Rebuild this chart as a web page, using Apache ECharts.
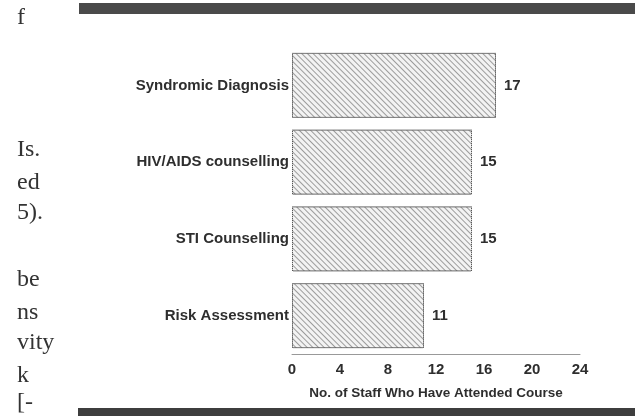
<!DOCTYPE html>
<html>
<head>
<meta charset="utf-8">
<script src="https://cdn.jsdelivr.net/npm/echarts@6/dist/echarts.min.js"></script>
<style>
  html, body { margin: 0; padding: 0; background: #fff; }
  #chart { width: 635px; height: 416px; }
</style>
</head>
<body>
<div id="chart"></div>
<script>
const courses = ['Syndromic Diagnosis', 'HIV/AIDS counselling', 'STI Counselling', 'Risk Assessment']
const staffCounts = [17, 15, 15, 11]
const axisTitle = 'No. of Staff Who Have Attended Course'
// cut-off words of the page text left of the figure
const marginWords = [
  { text: 'f', y: 25 },
  { text: 'Is.', y: 157 },
  { text: 'ed', y: 190 },
  { text: '5).', y: 220 },
  { text: 'be', y: 287 },
  { text: 'ns', y: 320 },
  { text: 'vity', y: 350 },
  { text: 'k', y: 383 },
  { text: '[-', y: 410 }
]

const chart = echarts.init(document.getElementById('chart'))

const ink = '#2e2e2e'
const labelFont = {
  fontFamily: 'Liberation Sans, Arial, sans-serif',
  fontWeight: 'bold',
  fontSize: 15,
  color: ink
}

const option = {
  backgroundColor: '#fff',
  animation: false,
  grid: {
    left: 292,
    top: 47,
    width: 288,
    height: 307
  },
  xAxis: {
    type: 'value',
    min: 0,
    max: 24,
    interval: 4,
    name: axisTitle,
    nameLocation: 'middle',
    nameGap: 32,
    nameTextStyle: {
      fontFamily: 'Liberation Sans, Arial, sans-serif',
      fontWeight: 'bold',
      fontSize: 13.5,
      color: ink
    },
    axisLine: { show: true, lineStyle: { color: '#999', width: 1 } },
    axisTick: { show: false },
    splitLine: { show: false },
    axisLabel: { ...labelFont, margin: 8 }
  },
  yAxis: {
    type: 'category',
    inverse: true,
    data: courses,
    axisLine: { show: false },
    axisTick: { show: false },
    axisLabel: { ...labelFont, margin: 3 }
  },
  series: [
    {
      type: 'bar',
      data: staffCounts,
      barWidth: 65,
      itemStyle: {
        color: '#f3f3f3',
        borderColor: '#555',
        borderWidth: 1,
        borderType: 'dotted',
        decal: {
          symbol: 'rect',
          symbolSize: 1,
          color: 'rgba(70, 70, 70, 0.5)',
          dashArrayX: [1, 0],
          dashArrayY: [1, 3],
          rotation: Math.PI / 4
        }
      },
      label: {
        show: true,
        position: 'right',
        distance: 8,
        ...labelFont
      }
    }
  ],
  graphic: [
    {
      type: 'rect',
      shape: { x: 79, y: 3, width: 556, height: 11 },
      style: { fill: '#4a4a4a' },
      silent: true
    },
    {
      type: 'rect',
      shape: { x: 78, y: 408, width: 557, height: 8 },
      style: { fill: '#3e3e3e' },
      silent: true
    },
    ...marginWords.map(w => ({
      type: 'text',
      left: 17,
      top: w.y - 19,
      silent: true,
      style: {
        text: w.text,
        font: '24px "Liberation Serif", "Times New Roman", serif',
        fill: '#333'
      }
    }))
  ]
}

chart.setOption(option)
window.addEventListener('resize', () => chart.resize())
</script>
</body>
</html>
